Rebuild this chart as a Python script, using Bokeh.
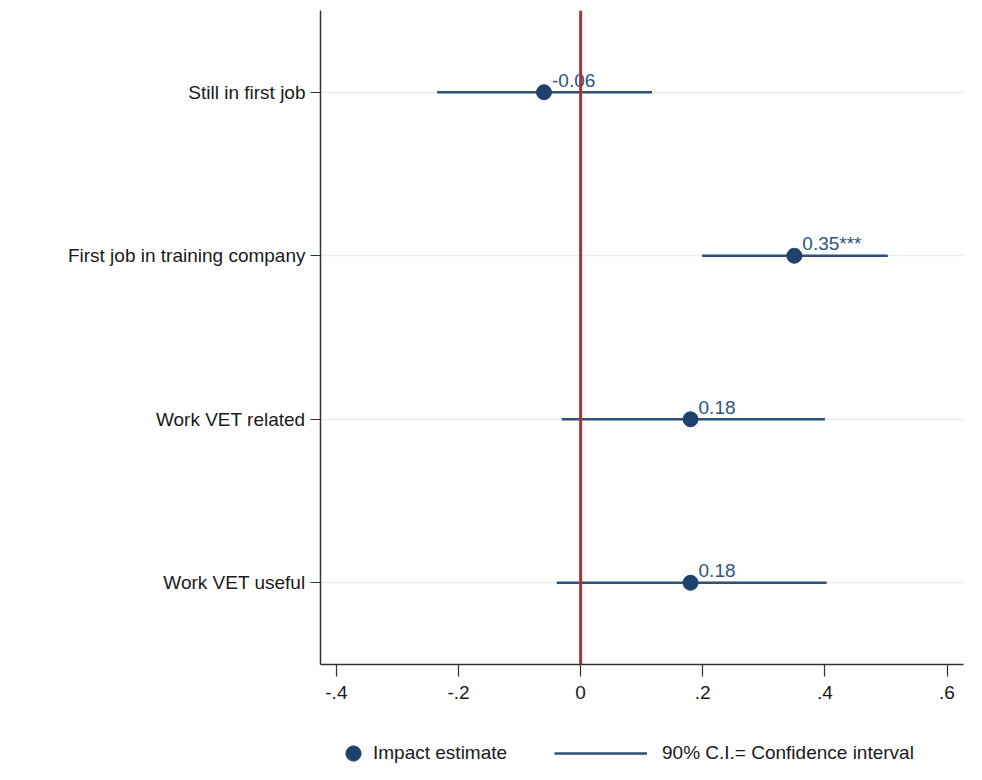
from bokeh.plotting import figure
from bokeh.layouts import column
from bokeh.models import (FactorRange, Range1d, FixedTicker, Span, Legend, LegendItem,
                          ColumnDataSource)
from bokeh.core.properties import value
from bokeh.embed import file_html
from bokeh.resources import INLINE

# ---- data ----
categories = ["Work VET useful", "Work VET related", "First job in training company", "Still in first job"]
outcomes = ["Still in first job", "First job in training company", "Work VET related", "Work VET useful"]
estimates = [-0.06, 0.35, 0.18, 0.18]
ci_low = [-0.235, 0.199, -0.031, -0.039]
ci_high = [0.117, 0.503, 0.40, 0.403]
labels = ["-0.06", "0.35***", "0.18", "0.18"]
x_ticks = [-0.4, -0.2, 0, 0.2, 0.4, 0.6]
x_tick_labels = ["-.4", "-.2", "0", ".2", ".4", ".6"]
legend_labels = ["Impact estimate", "90% C.I.= Confidence interval"]

FONT = "Liberation Sans"
NAVY = "#1d426b"
LINE = "#2e5179"
W = 966

src = ColumnDataSource(dict(cat=outcomes, est=estimates, lo=ci_low, hi=ci_high, lab=labels))

p = figure(width=W, height=704, output_backend="svg", toolbar_location=None,
           y_range=FactorRange(factors=categories, range_padding=0),
           x_range=Range1d(-0.426, 0.627),
           min_border_left=320, min_border_right=3, min_border_top=10, min_border_bottom=40)
p.outline_line_color = None
p.background_fill_color = "white"
p.border_fill_color = "white"

# grids
p.xgrid.grid_line_color = None
p.ygrid.grid_line_color = "#e6eff0"
p.ygrid.grid_line_width = 1.5

# axes
p.xaxis.ticker = FixedTicker(ticks=x_ticks)
p.xaxis.major_label_overrides = {t: l for t, l in zip(x_ticks, x_tick_labels)}
p.xaxis.minor_tick_line_color = None
p.xaxis.major_tick_out = 12
p.xaxis.major_tick_in = 0
p.xaxis.major_label_standoff = 9
for ax in (p.xaxis, p.yaxis):
    ax.axis_line_color = "#333333"
    ax.axis_line_width = 1.5
    ax.major_tick_line_color = "#333333"
    ax.major_tick_line_width = 1.2
    ax.major_label_text_font = FONT
    ax.major_label_text_font_size = "19px"
    ax.major_label_text_color = "#1a1a1a"

p.yaxis.major_tick_out = 10
p.yaxis.major_tick_in = 0
p.yaxis.major_label_standoff = 5
p.yaxis.minor_tick_line_color = None

# zero line
p.add_layout(Span(location=0, dimension="height", line_color="#a8323a", line_width=3))

p.segment(x0="lo", x1="hi", y0="cat", y1="cat", source=src, line_color=LINE, line_width=2.5)
p.scatter(x="est", y="cat", source=src, size=15, fill_color=NAVY, line_color=NAVY)
p.text(x="est", y="cat", text="lab", source=src, x_offset=8, y_offset=-12,
       text_font=value(FONT), text_font_size="19px", text_color="#2c5580",
       text_baseline="alphabetic", text_align="left")

# ---- legend strip below the plot ----
lf = figure(width=W, height=60, output_backend="svg", toolbar_location=None,
            x_range=Range1d(0, 1), y_range=Range1d(0, 1),
            x_axis_location=None, y_axis_location=None,
            min_border_left=0, min_border_right=0, min_border_top=0, min_border_bottom=0)
lf.outline_line_color = None
lf.xgrid.grid_line_color = None
lf.ygrid.grid_line_color = None
nan = float("nan")
dot_r = lf.scatter(x=[nan], y=[nan], size=15, fill_color=NAVY, line_color=NAVY)
line_r = lf.line(x=[nan, nan], y=[nan, nan], line_color=LINE, line_width=2.5)

common = dict(orientation="horizontal", padding=0, margin=0, spacing=0,
              border_line_color=None, background_fill_alpha=0,
              label_text_font=FONT, label_text_font_size="19px",
              label_text_color="#1a1a1a", glyph_height=38)
lf.add_layout(Legend(items=[LegendItem(label=legend_labels[0], renderers=[dot_r])],
                     location=(14, -8), glyph_width=38, label_standoff=1, **common))
lf.add_layout(Legend(items=[LegendItem(label=legend_labels[1], renderers=[line_r])],
                     location=(234, -8), glyph_width=93, label_standoff=15, **common))

open("out.html", "w").write(file_html(column(p, lf), INLINE))
